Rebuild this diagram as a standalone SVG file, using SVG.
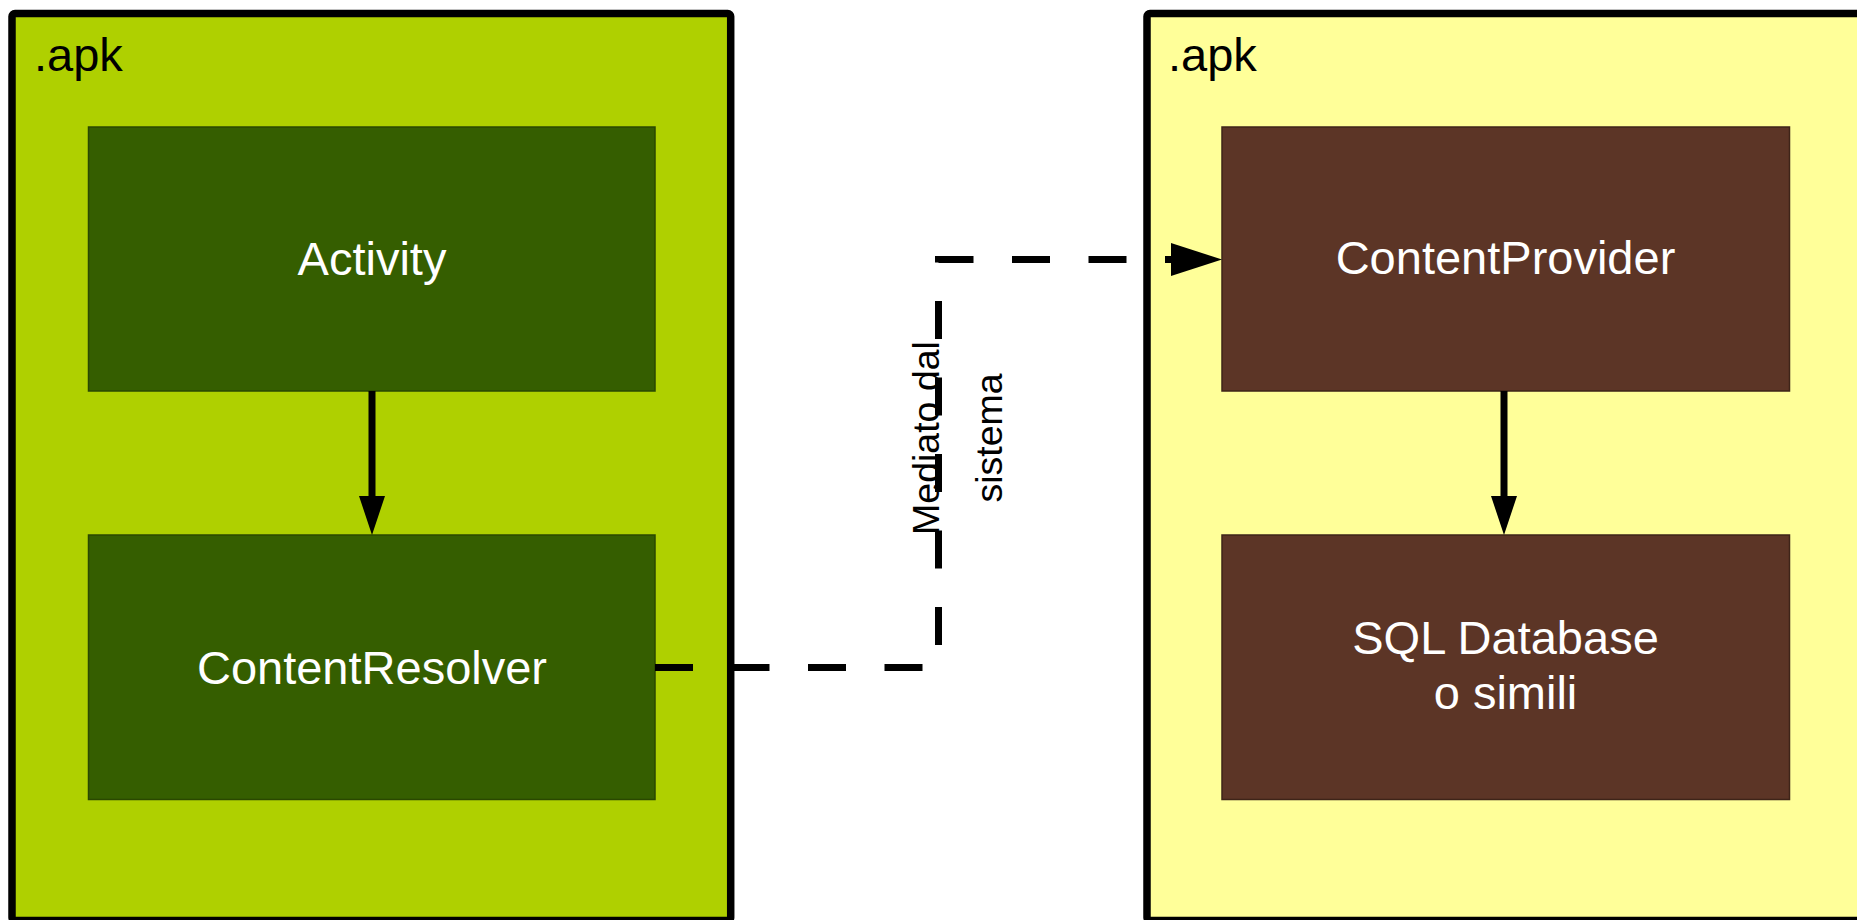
<svg xmlns="http://www.w3.org/2000/svg" width="1857" height="920" viewBox="0 0 1857 920">
<style>
.container{stroke:#000;stroke-width:7.5;}
.green{fill:#afd000;}
.yellow{fill:#ffff99;}
.box-g{fill:#355e00;stroke:#2a4800;stroke-width:1.5;}
.box-b{fill:#5c3526;stroke:#3e2418;stroke-width:1.5;}
.lbl{font-family:"Liberation Sans",Arial,sans-serif;font-size:47px;fill:#fff;text-anchor:middle;}
.apk{font-family:"Liberation Sans",Arial,sans-serif;font-size:47px;fill:#000;}
.side{font-family:"Liberation Sans",Arial,sans-serif;font-size:37.5px;fill:#000;text-anchor:middle;}
.solid{stroke:#000;stroke-width:7;fill:none;}
.dash{stroke:#000;stroke-width:7;fill:none;stroke-dasharray:38 38.5;}
</style>
<rect width="1857" height="920" fill="#fff"/>
<g id="apk-left">
<rect class="container green" x="12" y="13.5" width="718.7" height="907" rx="3"/>
<text class="apk" x="34" y="71">.apk</text>
</g>
<g id="apk-right">
<rect class="container yellow" x="1147" y="13.5" width="760" height="907" rx="3"/>
<text class="apk" x="1168" y="71">.apk</text>
</g>
<g id="activity">
<rect class="box-g" x="88.5" y="127" width="566.5" height="264"/>
<text class="lbl" x="372" y="275">Activity</text>
</g>
<g id="contentresolver">
<rect class="box-g" x="88.5" y="535" width="566.5" height="264.5"/>
<text class="lbl" x="372" y="684">ContentResolver</text>
</g>
<g id="contentprovider">
<rect class="box-b" x="1222" y="127" width="567.5" height="264"/>
<text class="lbl" x="1505.5" y="274">ContentProvider</text>
</g>
<g id="sqldatabase">
<rect class="box-b" x="1222" y="535" width="567.5" height="264.5"/>
<text class="lbl" x="1505.5" y="654">SQL Database</text>
<text class="lbl" x="1505.5" y="709">o simili</text>
</g>
<g id="connectors">
<line class="solid" x1="372" y1="391" x2="372" y2="497"/>
<polygon points="359,496 385,496 372,535" fill="#000"/>
<line class="solid" x1="1504" y1="391" x2="1504" y2="497"/>
<polygon points="1491,496 1517,496 1504,535" fill="#000"/>
<path class="dash" d="M655,667.5 H938.5 V259.5 H1172"/>
<polygon points="1171,243 1222,259.5 1171,276" fill="#000"/>
<text class="side" transform="translate(939,438) rotate(-90)">Mediato dal</text>
<text class="side" transform="translate(1002,438) rotate(-90)">sistema</text>
</g>
</svg>
